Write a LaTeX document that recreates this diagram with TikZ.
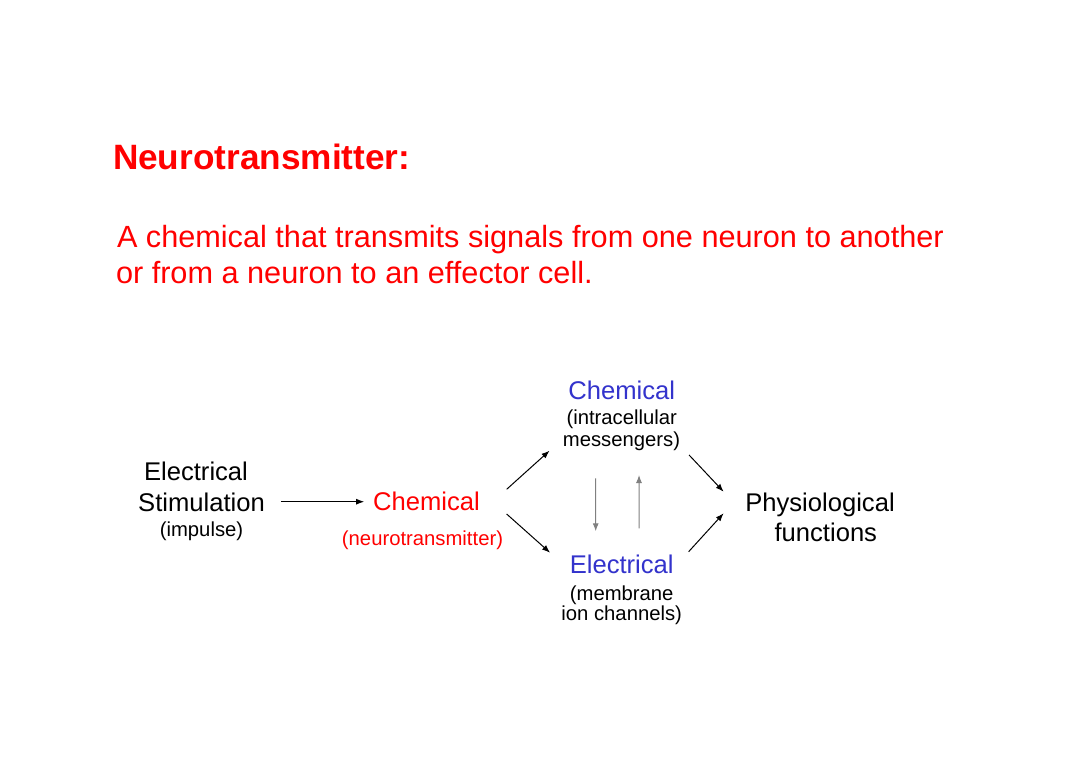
\documentclass[tikz,border=0pt]{standalone}
\usepackage{fontspec}
\setmainfont{Liberation Sans}
\usetikzlibrary{arrows.meta}
\definecolor{tred}{RGB}{255,0,0}
\definecolor{tblue}{RGB}{51,51,204}
\definecolor{tgray}{RGB}{128,128,128}
\tikzset{
  txt/.style={inner sep=0pt, outer sep=0pt, anchor=base},
  titlefont/.style={font=\fontsize{26.4}{30}\selectfont\bfseries, text=tred},
  bodyfont/.style={font=\fontsize{23}{27}\selectfont, text=tred},
  bigfont/.style={font=\fontsize{19.2}{23}\selectfont},
  smallfont/.style={font=\fontsize{15.2}{18}\selectfont},
  arr/.style={line width=0.75pt, -{Latex[length=6pt,width=4.5pt]}},
  garr/.style={line width=0.75pt, draw=tgray, -{Latex[length=6pt,width=4.5pt]}, tgray},
}
\begin{document}
\begin{tikzpicture}[x=0.75pt,y=-0.75pt]
\useasboundingbox (0,0) rectangle (1080,763);
\fill[white] (0,0) rectangle (1080,763);
% title and definition
\node[txt, titlefont, anchor=base west] (title) at (113,170) {Neurotransmitter:};
\node[txt, bodyfont, anchor=base west] (body1) at (117,247.3) {A chemical that transmits signals from one neuron to another};
\node[txt, bodyfont, anchor=base west] (body2) at (116,283.3) {or from a neuron to an effector cell.};
% left block
\node[txt, bigfont] (e1) at (196,480.7) {Electrical};
\node[txt, bigfont] (e2) at (201.5,511.7) {Stimulation};
\node[txt, smallfont] (e3) at (201.5,536) {(impulse)};
% red chemical
\node[txt, bigfont, text=tred] (chemR) at (426.5,510.7) {Chemical};
\node[txt, smallfont, text=tred] (chemRs) at (422.5,545) {(neurotransmitter)};
% blue chemical
\node[txt, bigfont, text=tblue] (chemB) at (621.7,399.3) {Chemical};
\node[txt, smallfont] (intra) at (621.7,424.3) {(intracellular};
\node[txt, smallfont] (mess) at (621.5,446.7) {messengers)};
% blue electrical
\node[txt, bigfont, text=tblue] (elecB) at (621.7,573.3) {Electrical};
\node[txt, smallfont] (memb) at (621.7,600) {(membrane};
\node[txt, smallfont] (ion) at (621.7,620.7) {ion channels)};
% physiological
\node[txt, bigfont] (phys) at (820,511) {Physiological};
\node[txt, bigfont] (func) at (825.8,541) {functions};
% arrows
\draw[arr] ([shift={(16,-10)}]e2.base east) -- ([shift={(-9,-9)}]chemR.base west);
\draw[arr] ([shift={(26.8,-21.4)}]chemR.base east) -- ([shift={(-13.4,4)}]mess.base west);
\draw[arr] ([shift={(26.8,3.3)}]chemR.base east) -- ([shift={(-19.7,-20.6)}]elecB.base west);
\draw[arr] ([shift={(9,8.3)}]mess.base east) -- ([shift={(-21.7,-19.3)}]phys.base west);
\draw[arr] ([shift={(15,-21.6)}]elecB.base east) -- ([shift={(-21.7,2.3)}]phys.base west);
\draw[garr] ([shift={(-25.8,31.6)}]mess.base) -- ([shift={(-26,-42)}]elecB.base);
\draw[garr] ([shift={(17.3,-45)}]elecB.base) -- ([shift={(17.5,28.3)}]mess.base);
\end{tikzpicture}
\end{document}
